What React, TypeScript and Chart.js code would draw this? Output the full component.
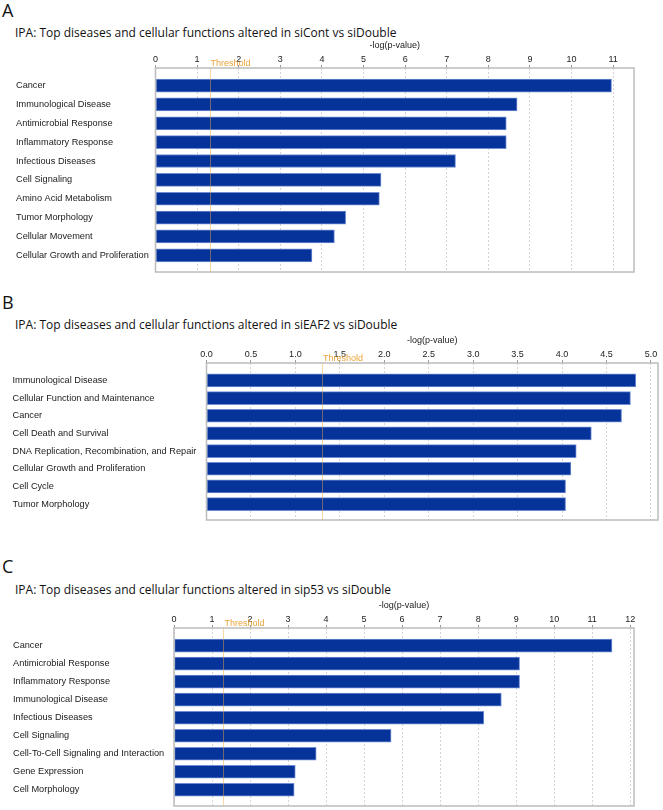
import React, { useEffect, useRef } from "react";
import { Chart, registerables } from "chart.js";

Chart.register(...registerables);

// ---------- data ----------
const labelsA = [
  "Cancer",
  "Immunological Disease",
  "Antimicrobial Response",
  "Inflammatory Response",
  "Infectious Diseases",
  "Cell Signaling",
  "Amino Acid Metabolism",
  "Tumor Morphology",
  "Cellular Movement",
  "Cellular Growth and Proliferation",
];
const valuesA = [10.96, 8.69, 8.43, 8.43, 7.21, 5.42, 5.38, 4.57, 4.3, 3.76];

const labelsB = [
  "Immunological Disease",
  "Cellular Function and Maintenance",
  "Cancer",
  "Cell Death and Survival",
  "DNA Replication, Recombination, and Repair",
  "Cellular Growth and Proliferation",
  "Cell Cycle",
  "Tumor Morphology",
];
const valuesB = [4.83, 4.77, 4.67, 4.33, 4.16, 4.1, 4.04, 4.04];

const labelsC = [
  "Cancer",
  "Antimicrobial Response",
  "Inflammatory Response",
  "Immunological Disease",
  "Infectious Diseases",
  "Cell Signaling",
  "Cell-To-Cell Signaling and Interaction",
  "Gene Expression",
  "Cell Morphology",
];
const valuesC = [11.52, 9.09, 9.09, 8.61, 8.15, 5.71, 3.74, 3.19, 3.16];

const THRESHOLD = 1.3;
const AXIS_TITLE = "-log(p-value)";
const THRESHOLD_LABEL = "Threshold";

const titleA = "IPA: Top diseases and cellular functions altered in siCont vs siDouble";
const titleB = "IPA: Top diseases and cellular functions altered in siEAF2 vs siDouble";
const titleC = "IPA: Top diseases and cellular functions altered in sip53 vs siDouble";

// ---------- styling ----------
const SMALL_FONT = '"Liberation Sans", Arial, sans-serif';
const TITLE_FONT = '"Open Sans", "Liberation Sans", sans-serif';
const BAR_FILL = "#063399";
const BAR_EDGE = "#6f8cd4";

type PanelProps = {
  letter: string;
  title: string;
  labels: string[];
  values: number[];
  xMax: number;
  step: number;
  decimals: number;
  labelLeft: number;
  plotLeft: number;
  plotRight: number;
  plotTop: number;
  plotBottom: number;
  yMin: number;
  yMax: number;
  letterY: number;
  titleY: number;
};

const AXIS_H = 36;
const BOTTOM_PAD = 6;
const PAGE_W = 663;

const ipaPlugin = {
  id: "ipaBox",
  afterDatasetsDraw(chart: any, _args: any, opts: any) {
    const { ctx, chartArea: a } = chart;
    const xs = chart.scales.x;
    const tx = xs.getPixelForValue(opts.threshold);
    ctx.save();
    ctx.strokeStyle = "rgba(238,170,60,0.45)";
    ctx.lineWidth = 1;
    ctx.beginPath();
    ctx.moveTo(Math.round(tx) + 0.5, a.top);
    ctx.lineTo(Math.round(tx) + 0.5, a.bottom);
    ctx.stroke();
    ctx.fillStyle = "#eba43a";
    ctx.font = "9px " + SMALL_FONT;
    ctx.textBaseline = "bottom";
    ctx.textAlign = "left";
    ctx.fillText(opts.label, tx + 1, a.top);
    ctx.strokeStyle = "#bcbcbc";
    ctx.lineWidth = 1.5;
    ctx.strokeRect(a.left, a.top, a.right - a.left, a.bottom - a.top);
    ctx.restore();
  },
};

function Panel(p: PanelProps) {
  const ref = useRef<HTMLCanvasElement | null>(null);
  const canvasTop = p.plotTop - AXIS_H;
  const canvasH = p.plotBottom - canvasTop + BOTTOM_PAD;

  useEffect(() => {
    if (!ref.current) return;
    const chart = new Chart(ref.current, {
      type: "bar",
      data: {
        datasets: [
          {
            data: p.values.map((v, i) => ({ x: v, y: i })),
            backgroundColor: BAR_FILL,
            borderColor: BAR_EDGE,
            borderWidth: 1,
            borderSkipped: false,
            barThickness: 13,
          } as any,
        ],
      },
      options: {
        indexAxis: "y",
        animation: false,
        responsive: false,
        maintainAspectRatio: false,
        layout: {
          padding: {
            left: p.labelLeft,
            right: PAGE_W - p.plotRight,
            top: 0,
            bottom: BOTTOM_PAD,
          },
        },
        plugins: {
          legend: { display: false },
          tooltip: { enabled: false },
          ipaBox: { threshold: THRESHOLD, label: THRESHOLD_LABEL },
        } as any,
        scales: {
          x: {
            type: "linear",
            position: "top",
            min: 0,
            max: p.xMax,
            bounds: "data",
            offset: false,
            border: { display: false, dash: [2, 2] },
            grid: {
              color: "#d4d4d4",
              lineWidth: 1,
              tickLength: 3,
              tickColor: "#9a9a9a",
              tickBorderDash: [],
            },
            ticks: {
              stepSize: p.step,
              includeBounds: false,
              autoSkip: false,
              maxRotation: 0,
              padding: 0,
              color: "#222",
              font: { family: SMALL_FONT, size: 9 },
              callback: (v: any) => Number(v).toFixed(p.decimals),
            },
            title: {
              display: true,
              text: AXIS_TITLE,
              color: "#222",
              font: { family: SMALL_FONT, size: 9 },
              padding: { top: 8.5, bottom: 0 },
            },
            afterFit: (s: any) => {
              s.height = AXIS_H;
            },
          },
          y: {
            type: "linear",
            reverse: true,
            offset: false,
            min: p.yMin,
            max: p.yMax,
            bounds: "data",
            grid: { display: false, offset: false },
            border: { display: false },
            afterBuildTicks: (s: any) => {
              s.ticks = p.labels.map((_, i) => ({ value: i }));
            },
            ticks: {
              autoSkip: false,
              crossAlign: "far",
              padding: 0,
              color: "#1a1a1a",
              font: { family: SMALL_FONT, size: 9.2 },
              callback: (v: any) => p.labels[Math.round(Number(v))] ?? "",
            },
            afterFit: (s: any) => {
              s.width = p.plotLeft - p.labelLeft;
            },
          },
        },
      } as any,
      plugins: [ipaPlugin as any],
    });
    return () => chart.destroy();
  }, []);

  return (
    <>
      <div
        style={{
          position: "absolute",
          left: 2,
          top: p.letterY - 12,
          height: 24,
          lineHeight: "24px",
          fontFamily: TITLE_FONT,
          fontSize: 18,
          color: "#111",
        }}
      >
        {p.letter}
      </div>
      <div
        style={{
          position: "absolute",
          left: 15,
          top: p.titleY - 9,
          height: 18,
          lineHeight: "18px",
          fontFamily: TITLE_FONT,
          fontSize: 12,
          color: "#111",
          whiteSpace: "nowrap",
        }}
      >
        {p.title}
      </div>
      <canvas
        ref={ref}
        width={PAGE_W}
        height={canvasH}
        style={{ position: "absolute", left: 0, top: canvasTop, width: PAGE_W, height: canvasH }}
      />
    </>
  );
}

export default function App() {
  return (
    <div
      style={{
        position: "absolute",
        left: 0,
        top: 0,
        width: PAGE_W,
        height: 810,
        background: "#fff",
        overflow: "hidden",
      }}
    >
      <Panel
        letter="A"
        title={titleA}
        labels={labelsA}
        values={valuesA}
        xMax={11.5}
        step={1}
        decimals={0}
        labelLeft={16}
        plotLeft={155.5}
        plotRight={634}
        plotTop={68}
        plotBottom={272}
        yMin={-0.933}
        yMax={9.885}
        letterY={9.5}
        titleY={33}
      />
      <Panel
        letter="B"
        title={titleB}
        labels={labelsB}
        values={valuesB}
        xMax={5.08}
        step={0.5}
        decimals={1}
        labelLeft={12.5}
        plotLeft={206.5}
        plotRight={658}
        plotTop={362.5}
        plotBottom={520}
        yMin={-0.988}
        yMax={7.9}
        letterY={301.5}
        titleY={325}
      />
      <Panel
        letter="C"
        title={titleC}
        labels={labelsC}
        values={valuesC}
        xMax={12.1}
        step={1}
        decimals={0}
        labelLeft={13}
        plotLeft={174}
        plotRight={634}
        plotTop={628.3}
        plotBottom={806.5}
        yMin={-0.98}
        yMax={8.9}
        letterY={566}
        titleY={590}
      />
    </div>
  );
}
